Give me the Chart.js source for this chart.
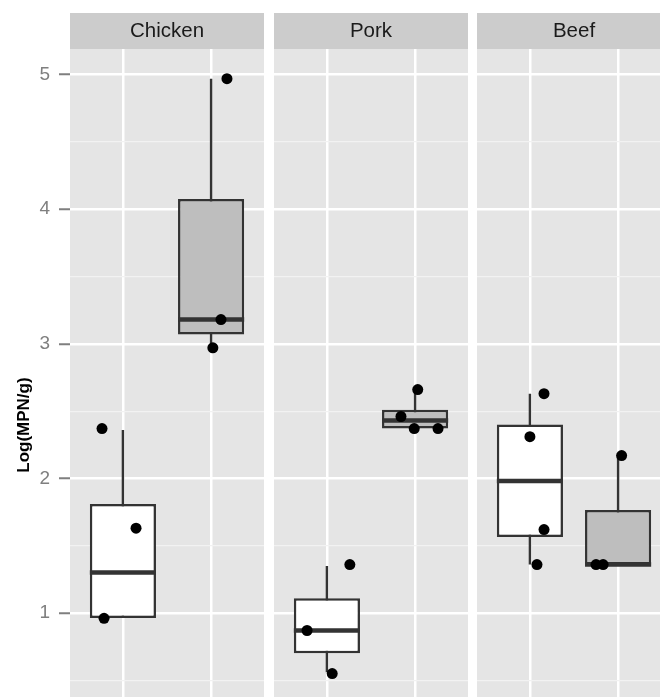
<!DOCTYPE html>
<html><head><meta charset="utf-8">
<script src="https://cdn.jsdelivr.net/npm/chart.js@4.4.1/dist/chart.umd.min.js"></script>
<style>
html,body{margin:0;padding:0;background:#fff;overflow:hidden;}
#wrap{position:relative;width:660px;height:697px;overflow:hidden;}
canvas{position:absolute;top:0;}
</style></head><body>
<div id="wrap">
<canvas id="c0" width="264" height="801" style="left:0px"></canvas>
<canvas id="c1" width="194" height="801" style="left:274px"></canvas>
<canvas id="c2" width="194" height="801" style="left:477px"></canvas>
</div>
<script>
// ---- data ----
const PANELS = ['Chicken', 'Pork', 'Beef'];
const GROUPS = [1, 2];
const BOX_FILL = ['#FFFFFF', '#BEBEBE'];
const Y_TICKS = [1, 2, 3, 4, 5];
const Y_TITLE = 'Log(MPN/g)';
const Y_MIN = -0.397, Y_MAX = 5.19;
// box statistics per panel: [group1, group2]
const Q1  = [[0.963, 3.07], [0.70, 2.37], [1.565, 1.36]];
const MED = [[1.30, 3.18], [0.87, 2.43], [1.98, 1.36]];
const Q3  = [[1.81, 4.076], [1.11, 2.51], [2.40, 1.765]];
const WLO = [[0.963, 2.97], [0.56, 2.37], [1.36, 1.36]];
const WHI = [[2.36, 4.97], [1.35, 2.66], [2.63, 2.17]];
// jittered observations (x in group units)
const PT_X = [[0.763, 1.149, 0.786, 2.18, 2.112, 2.02],
              [1.26, 0.775, 1.06, 2.03, 1.84, 1.99, 2.26],
              [1.16, 1.0, 1.16, 1.08, 2.04, 1.75, 1.83]];
const PT_Y = [[2.37, 1.63, 0.96, 4.97, 3.18, 2.97],
              [1.36, 0.87, 0.55, 2.66, 2.46, 2.37, 2.37],
              [2.63, 2.31, 1.62, 1.36, 2.17, 1.36, 1.36]];

const FONT = "'Liberation Sans', Arial, Helvetica, sans-serif";
const BOX_HALF = 0.375;
const isMajor = v => Math.abs(v - Math.round(v)) < 1e-9;

const panelBg = {
  id: 'panelBg',
  beforeDraw(chart) {
    const {ctx, chartArea: a} = chart;
    ctx.save();
    ctx.fillStyle = '#E5E5E5';
    ctx.fillRect(a.left, a.top, a.right - a.left, a.bottom - a.top);
    const tb = chart.titleBlock;
    ctx.fillStyle = '#CCCCCC';
    ctx.fillRect(a.left, tb.top, a.right - a.left, a.top - tb.top);
    ctx.restore();
  }
};

function makeChart(i) {
  const first = i === 0;
  const boxes = GROUPS.map((g, j) => ({x: g, y: [Q1[i][j], Q3[i][j]]}));
  const whisk = [], med = [];
  GROUPS.forEach((g, j) => {
    whisk.push({x: g, y: WLO[i][j]}, {x: g, y: WHI[i][j]}, {x: g, y: null});
    med.push({x: g - BOX_HALF, y: MED[i][j]}, {x: g + BOX_HALF, y: MED[i][j]}, {x: g, y: null});
  });
  const pts = PT_X[i].map((x, k) => ({x: x, y: PT_Y[i][k]}));

  new Chart(document.getElementById('c' + i), {
    type: 'scatter',
    data: {
      datasets: [
        {type: 'scatter', data: pts, pointRadius: 5.5, pointBackgroundColor: '#000000',
         pointBorderWidth: 0, order: 0},
        {type: 'line', data: med, borderColor: '#333333', borderWidth: 4.5, pointRadius: 0,
         spanGaps: false, fill: false, tension: 0, order: 1},
        {type: 'bar', data: boxes, backgroundColor: BOX_FILL, borderColor: '#333333',
         borderWidth: 2.5, borderSkipped: false, categoryPercentage: 0.75, barPercentage: 1, order: 2},
        {type: 'line', data: whisk, borderColor: '#333333', borderWidth: 2.4, pointRadius: 0,
         spanGaps: false, fill: false, tension: 0, order: 3}
      ]
    },
    options: {
      responsive: false, animation: false, events: [],
      layout: {autoPadding: false, padding: {top: 13, left: 0, right: 0, bottom: 0}},
      plugins: {
        legend: {display: false},
        tooltip: {enabled: false},
        title: {display: true, text: PANELS[i], fullSize: false, color: '#1A1A1A',
                font: {family: FONT, size: 20.5, weight: 'normal'}, padding: {top: 6, bottom: 5.5}}
      },
      scales: {
        x: {
          type: 'linear', min: 0.4, max: 2.6, offset: false,
          afterBuildTicks: s => { s.ticks = GROUPS.map(v => ({value: v})); },
          afterFit: s => { s.height = 0; s.paddingLeft = 0; s.paddingRight = 0; s.paddingTop = 0; s.paddingBottom = 0; },
          ticks: {display: false},
          grid: {color: '#FFFFFF', lineWidth: 2.5, drawTicks: false, offset: false},
          border: {display: false}
        },
        y: {
          type: 'linear', min: Y_MIN, max: Y_MAX,
          afterBuildTicks: s => {
            const t = [];
            for (let k = Math.ceil(Y_MIN * 2); k <= Math.floor(Y_MAX * 2); k++) t.push({value: k / 2});
            s.ticks = t;
          },
          afterFit: s => { s.width = first ? 70 : 0; s.paddingTop = 0; s.paddingBottom = 0; s.paddingLeft = 0; s.paddingRight = 0; },
          ticks: {display: first, color: '#7F7F7F', padding: 9,
                  font: {family: FONT, size: 19},
                  callback: v => (Y_TICKS.includes(v) ? String(v) : '')},
          grid: {
            color: c => (c.tick && isMajor(c.tick.value)) ? '#FFFFFF' : '#F2F2F2',
            lineWidth: c => (c.tick && isMajor(c.tick.value)) ? 2.5 : 1.2,
            drawTicks: first, tickLength: 11, tickWidth: 2,
            tickColor: c => (c.tick && Y_TICKS.includes(c.tick.value)) ? '#7F7F7F' : 'rgba(0,0,0,0)'
          },
          border: {display: false},
          title: {display: first, text: Y_TITLE, color: '#000000',
                  font: {family: FONT, size: 17, weight: 'bold'}, padding: {top: 14, bottom: 0}}
        }
      }
    },
    plugins: [panelBg]
  });
}
PANELS.forEach((p, i) => makeChart(i));
</script>
</body></html>
